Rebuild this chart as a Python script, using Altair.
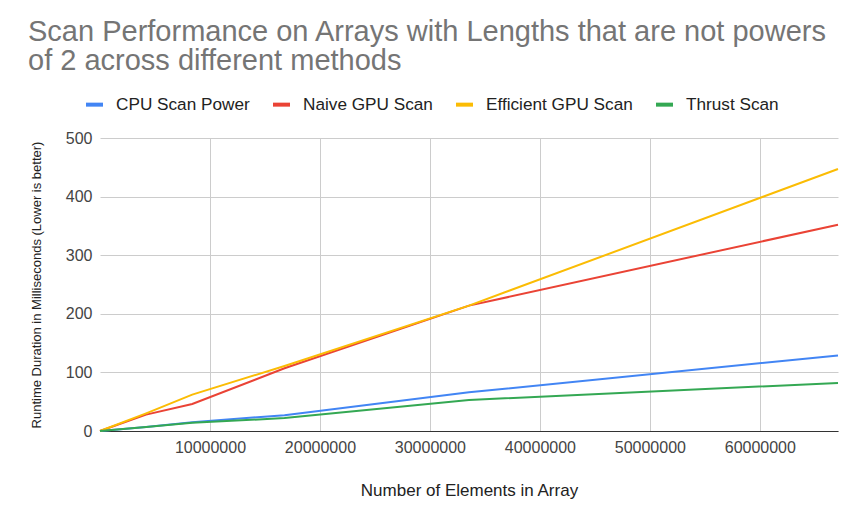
import altair as alt
import pandas as pd

sizes = [253, 4194301, 8388605, 16777213, 33554429, 67108861]
cpu_scan = [0.0, 7, 15, 27, 66, 129]
naive_gpu = [0.0, 28, 46, 107, 214, 352]
efficient_gpu = [0.0, 30, 62, 111, 214, 447]
thrust_scan = [0.0, 7, 14, 22, 53, 82]

series_names = ["CPU Scan Power", "Naive GPU Scan", "Efficient GPU Scan", "Thrust Scan"]
series_colors = ["#4285F4", "#EA4335", "#FBBC04", "#34A853"]
series_values = [cpu_scan, naive_gpu, efficient_gpu, thrust_scan]

x_ticks = [10000000, 20000000, 30000000, 40000000, 50000000, 60000000]
y_ticks = [0, 100, 200, 300, 400, 500]

rows = []
for name, vals in zip(series_names, series_values):
    for i, (s, v) in enumerate(zip(sizes, vals)):
        rows.append({"Method": name, "Elements": s, "Runtime": v, "order": i})
df = pd.DataFrame(rows)

FONT = "Liberation Sans"

chart = alt.Chart(df).mark_line(strokeWidth=2).encode(
    x=alt.X("Elements:Q",
            scale=alt.Scale(domain=[0, 67108861], nice=False, zero=True),
            axis=alt.Axis(title="Number of Elements in Array", values=x_ticks, format="d",
                          labelFontSize=16, labelColor="#444444", labelFont=FONT,
                          titleFontSize=17, titleColor="#222222", titleFont=FONT, titleFontWeight="normal",
                          titlePadding=27, labelPadding=8,
                          grid=True, gridColor="#cccccc", ticks=False,
                          domainColor="#333333", domainWidth=1)),
    y=alt.Y("Runtime:Q",
            scale=alt.Scale(domain=[0, 500], nice=False),
            axis=alt.Axis(title="Runtime Duration in Milliseconds (Lower is better)", values=y_ticks,
                          labelFontSize=16, labelColor="#444444", labelFont=FONT,
                          titleFontSize=13, titleColor="#222222", titleFont=FONT, titleFontWeight="normal",
                          titlePadding=22, labelPadding=8,
                          grid=True, gridColor="#cccccc", ticks=False, domain=False)),
    color=alt.Color("Method:N",
                    scale=alt.Scale(domain=series_names, range=series_colors),
                    sort=series_names,
                    legend=alt.Legend(title=None, orient="none", direction="horizontal",
                                      legendX=-16, legendY=-44,
                                      symbolType="stroke", symbolSize=289, symbolStrokeWidth=4,
                                      labelFontSize=17.2, labelFont=FONT, labelColor="#222222",
                                      labelOffset=11, columnPadding=15)),
    order="order:Q",
).properties(
    width=738,
    height=293,
    title=alt.TitleParams(
        text=["Scan Performance on Arrays with Lengths that are not powers", "of 2 across different methods"],
        anchor="start", frame="group", dx=-72, fontSize=29, font=FONT, fontWeight="normal",
        color="#757575", lineHeight=29, offset=18),
    padding={"left": 92, "top": 130, "right": 14, "bottom": 88},
    autosize=alt.AutoSizeParams(type="none"),
).configure_view(stroke=None)

chart.save("out.html", embed_options={"renderer": "svg", "actions": False})
